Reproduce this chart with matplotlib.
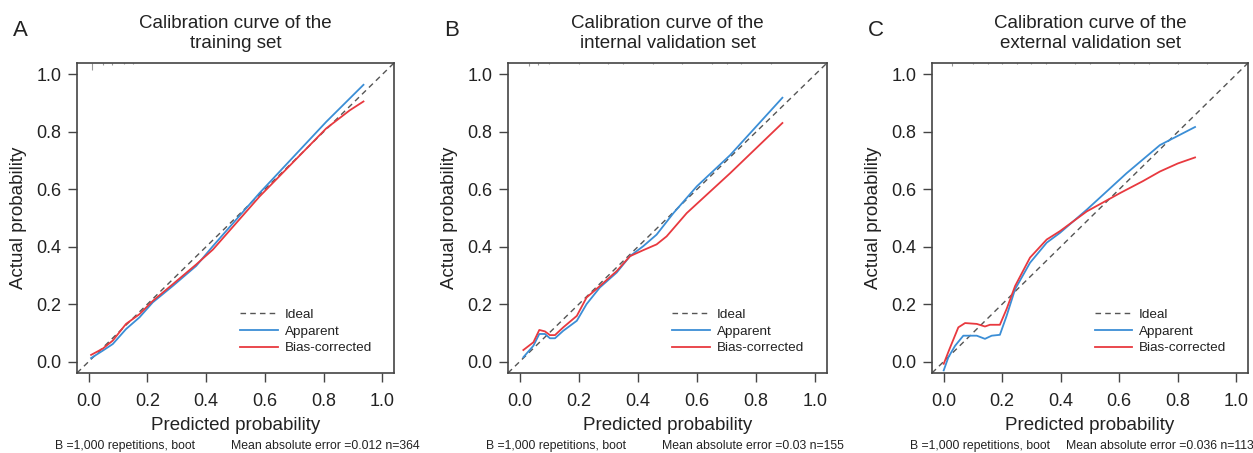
import matplotlib
matplotlib.use("Agg")
import matplotlib.pyplot as plt

plt.rcParams['font.family'] = ['Liberation Sans', 'DejaVu Sans']

# ---------------- data ----------------
panel_letters = ["A", "B", "C"]
titles = ["Calibration curve of the\ntraining set",
          "Calibration curve of the\ninternal validation set",
          "Calibration curve of the\nexternal validation set"]
footnote_left = ["B =1,000 repetitions, boot"] * 3
footnote_right = ["Mean absolute error =0.012 n=364",
                  "Mean absolute error =0.03 n=155",
                  "Mean absolute error =0.036 n=113"]

# Panel A (training)
a_x_app = [0.008, 0.048, 0.082, 0.127, 0.173, 0.218, 0.286, 0.366, 0.423, 0.582, 0.809, 0.936]
a_y_app = [0.012, 0.038, 0.061, 0.113, 0.154, 0.206, 0.263, 0.333, 0.402, 0.587, 0.835, 0.964]
a_x_bc = [0.008, 0.048, 0.082, 0.127, 0.173, 0.218, 0.286, 0.366, 0.423, 0.582, 0.809, 0.889, 0.936]
a_y_bc = [0.023, 0.045, 0.073, 0.131, 0.165, 0.211, 0.269, 0.338, 0.390, 0.575, 0.812, 0.875, 0.906]

# Panel B (internal validation)
b_x_app = [0.012, 0.046, 0.066, 0.085, 0.102, 0.119, 0.147, 0.193, 0.226, 0.271, 0.328, 0.373,
           0.418, 0.463, 0.520, 0.599, 0.712, 0.889]
b_y_app = [0.015, 0.055, 0.096, 0.096, 0.081, 0.081, 0.107, 0.142, 0.200, 0.258, 0.310, 0.367,
           0.402, 0.442, 0.517, 0.610, 0.719, 0.919]
b_x_bc = [0.012, 0.046, 0.066, 0.085, 0.102, 0.119, 0.147, 0.193, 0.226, 0.271, 0.328, 0.373,
          0.418, 0.463, 0.497, 0.565, 0.712, 0.889]
b_y_bc = [0.040, 0.067, 0.110, 0.105, 0.092, 0.092, 0.119, 0.159, 0.223, 0.263, 0.315, 0.367,
          0.388, 0.408, 0.436, 0.517, 0.656, 0.831]

# Panel C (external validation)
c_x_app = [0.000, 0.016, 0.039, 0.067, 0.113, 0.141, 0.164, 0.192, 0.215, 0.244, 0.295, 0.352,
           0.397, 0.489, 0.625, 0.739, 0.859]
c_y_app = [-0.031, 0.015, 0.055, 0.090, 0.090, 0.079, 0.090, 0.093, 0.159, 0.252, 0.344, 0.414,
           0.448, 0.529, 0.656, 0.754, 0.817]
c_x_bc = [0.000, 0.020, 0.050, 0.073, 0.113, 0.141, 0.158, 0.192, 0.215, 0.244, 0.295, 0.352,
          0.397, 0.489, 0.603, 0.680, 0.739, 0.800, 0.859]
c_y_bc = [-0.008, 0.044, 0.119, 0.134, 0.131, 0.122, 0.128, 0.128, 0.183, 0.263, 0.362, 0.425,
          0.454, 0.523, 0.587, 0.628, 0.662, 0.690, 0.711]

# spike histogram of predictions along the top
a_rug_x = [0.01, 0.05, 0.08, 0.12, 0.15]
a_rug_h = [0.025, 0.006, 0.006, 0.005, 0.004]
b_rug_x = [0.03, 0.06, 0.10, 0.20, 0.30, 0.35, 0.45, 0.55, 0.65, 0.70, 0.75, 0.85]
b_rug_h = [0.010, 0.006, 0.005, 0.005, 0.004, 0.004, 0.004, 0.004, 0.004, 0.004, 0.004, 0.004]
c_rug_x = [0.03, 0.10, 0.15, 0.20, 0.25, 0.30, 0.35, 0.45, 0.50, 0.60, 0.65, 0.70, 0.80, 0.90]
c_rug_h = [0.012, 0.005, 0.005, 0.005, 0.004, 0.004, 0.004, 0.004, 0.004, 0.004, 0.004, 0.004, 0.004, 0.004]

ticks = [0.0, 0.2, 0.4, 0.6, 0.8, 1.0]
tick_labels = ["0.0", "0.2", "0.4", "0.6", "0.8", "1.0"]
legend_labels = ["Ideal", "Apparent", "Bias-corrected"]

panels = [
    (a_x_app, a_y_app, a_x_bc, a_y_bc, a_rug_x, a_rug_h),
    (b_x_app, b_y_app, b_x_bc, b_y_bc, b_rug_x, b_rug_h),
    (c_x_app, c_y_app, c_x_bc, c_y_bc, c_rug_x, c_rug_h),
]

# ---------------- style ----------------
W, H = 1253, 453
blue = "#3b8ed6"
red = "#e8393f"
grey = "#555555"
spine_col = "#444444"
txt = "#222222"
axes_left_px = [77, 508, 932]
axes_w_px = [317, 319, 316]
axes_top_px, axes_bot_px = 63, 373
footR_offset = [154, 154, 134]

fig = plt.figure(figsize=(W / 100, H / 100), dpi=100)

for i, (xa, ya, xb, yb, rx, rh) in enumerate(panels):
    L = axes_left_px[i]
    ah = axes_bot_px - axes_top_px
    ax = fig.add_axes([L / W, 1 - axes_bot_px / H, axes_w_px[i] / W, ah / H])
    ax.set_xlim(-0.04, 1.04)
    ax.set_ylim(-0.04, 1.04)

    ax.plot([-0.04, 1.04], [-0.04, 1.04], ls=(0, (4, 3)), color=grey, lw=1.0,
            label=legend_labels[0])
    ax.plot(xa, ya, color=blue, lw=1.3, label=legend_labels[1])
    ax.plot(xb, yb, color=red, lw=1.3, label=legend_labels[2])
    ax.vlines(rx, [1.04 - h for h in rh], 1.04, color="#999999", lw=0.8)

    ax.set_xticks(ticks)
    ax.set_xticklabels(tick_labels)
    ax.set_yticks(ticks)
    ax.set_yticklabels(tick_labels)
    ax.tick_params(axis='both', direction='out', length=6.5, width=1.0,
                   color=spine_col, labelsize=13, labelcolor=txt)
    ax.tick_params(axis='x', pad=8)
    ax.tick_params(axis='y', pad=4.5)
    for s in ax.spines.values():
        s.set_color(spine_col)
        s.set_linewidth(1.2)

    ax.set_xlabel("Predicted probability", fontsize=13.5, color=txt)
    ax.xaxis.label.set_va('center')
    ax.xaxis.set_label_coords(0.5, (axes_bot_px - 425) / ah)
    ax.set_ylabel("Actual probability", fontsize=13.5, color=txt)
    ax.yaxis.label.set_va('center')
    ax.yaxis.set_label_coords(-58 / axes_w_px[i], 0.5)

    ax.set_title(titles[i], fontsize=13.5, color=txt, pad=11, linespacing=1.2)

    ax.legend(loc='upper left', bbox_to_anchor=(0.515, 0.208), frameon=False,
              fontsize=9.7, handlelength=2.8, handletextpad=0.5, labelspacing=0.32,
              borderpad=0, borderaxespad=0, labelcolor=txt)

    fig.text((L - 64) / W, 1 - 36.5 / H, panel_letters[i], fontsize=16,
             color=txt, ha='left', va='baseline')
    fig.text((L - 22) / W, 1 - 446 / H, footnote_left[i], fontsize=8.8,
             color=txt, ha='left', va='center')
    fig.text((L + footR_offset[i]) / W, 1 - 446 / H, footnote_right[i], fontsize=8.8,
             color=txt, ha='left', va='center')

fig.savefig("out.png", dpi=100)
